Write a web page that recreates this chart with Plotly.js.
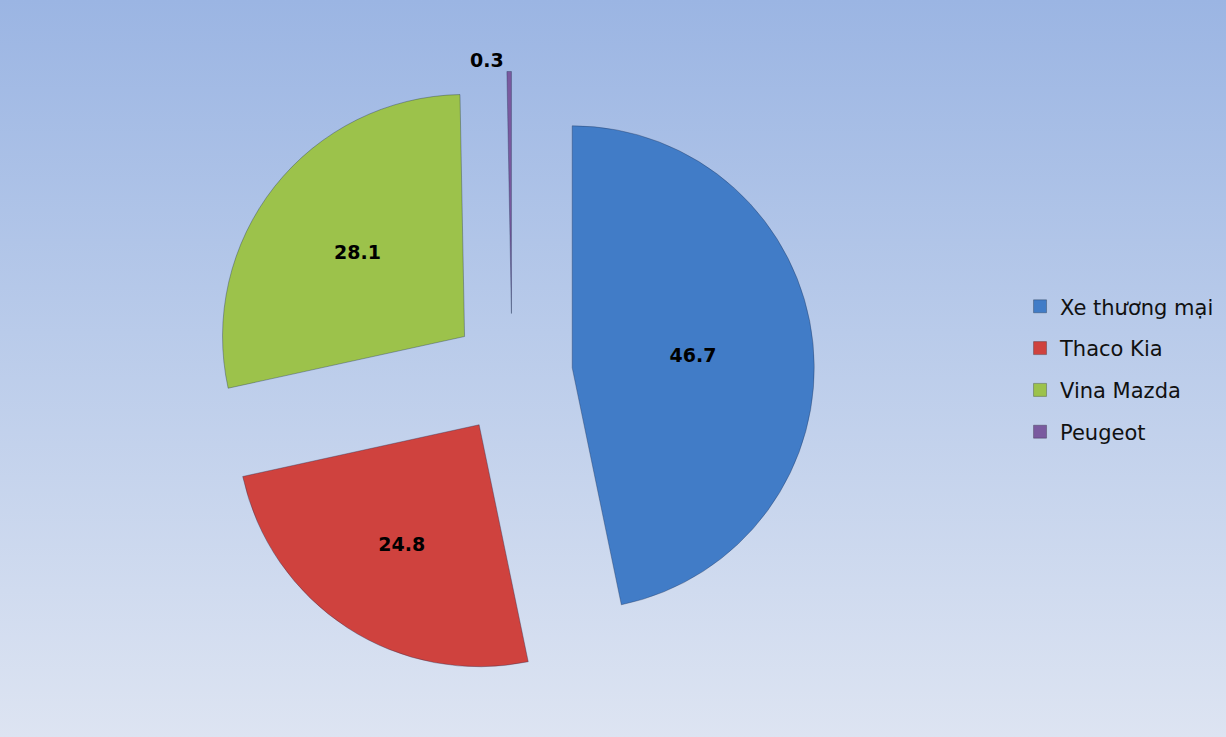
<!DOCTYPE html>
<html>
<head>
<meta charset="utf-8">
<script src="https://cdn.plot.ly/plotly-3.0.1.min.js"></script>
<style>
  html, body { margin:0; padding:0; }
  body { width:1226px; height:737px; background: linear-gradient(to bottom, #9bb5e3 0%, #b9cbea 45%, #dde4f2 100%); overflow:hidden; }
  #chart { width:1226px; height:737px; }
</style>
</head>
<body>
<div id="chart"></div>
<script>
// Data
const labels = ["Xe thương mại", "Thaco Kia", "Vina Mazda", "Peugeot"];
const values = [46.7, 24.8, 28.1, 0.3];
const colors = ["#417cc7", "#cf423e", "#9cc24b", "#7a5a9f"];

const pieTrace = {
  type: 'pie',
  labels: labels,
  values: values,
  sort: false,
  direction: 'clockwise',
  rotation: 0,
  pull: [0.25, 0.25, 0.25, 0.25],
  marker: { colors: colors, line: { color: 'rgba(30,45,80,0.35)', width: 1 } },
  textinfo: 'value',
  textposition: ['inside', 'inside', 'inside', 'outside'],
  insidetextorientation: 'horizontal',
  textfont: { family: 'DejaVu Sans', size: 19, color: '#000000', weight: 'bold' },
  outsidetextfont: { family: 'DejaVu Sans', size: 19, color: '#000000', weight: 'bold' },
  domain: { x: [0.1709, 0.6644], y: [0, 1] },
  showlegend: false,
  hoverinfo: 'label+value'
};

// Legend entries (one per category) so the vertical spacing can match
const legendTraces = labels.map((lab, i) => ({
  type: 'scatter',
  mode: 'markers',
  x: [null], y: [null],
  name: lab,
  legendgroup: 'g' + i,
  marker: { symbol: 'square', size: 13, color: colors[i], line: { color: 'rgba(0,0,0,0.25)', width: 1 } },
  hoverinfo: 'skip'
}));

const layout = {
  width: 1226,
  height: 737,
  margin: { l: 0, r: 0, t: 71, b: 60 },
  paper_bgcolor: 'rgba(0,0,0,0)',
  plot_bgcolor: 'rgba(0,0,0,0)',
  xaxis: { visible: false },
  yaxis: { visible: false },
  showlegend: true,
  legend: {
    x: 0.832, xanchor: 'left',
    y: 0.508, yanchor: 'middle',
    traceorder: 'grouped',
    tracegroupgap: 11.5,
    bgcolor: 'rgba(0,0,0,0)',
    font: { family: 'DejaVu Sans', size: 21, color: '#111111' },
    itemwidth: 30
  }
};

Plotly.newPlot('chart', [pieTrace].concat(legendTraces), layout, { displayModeBar: false, staticPlot: true });
</script>
</body>
</html>
